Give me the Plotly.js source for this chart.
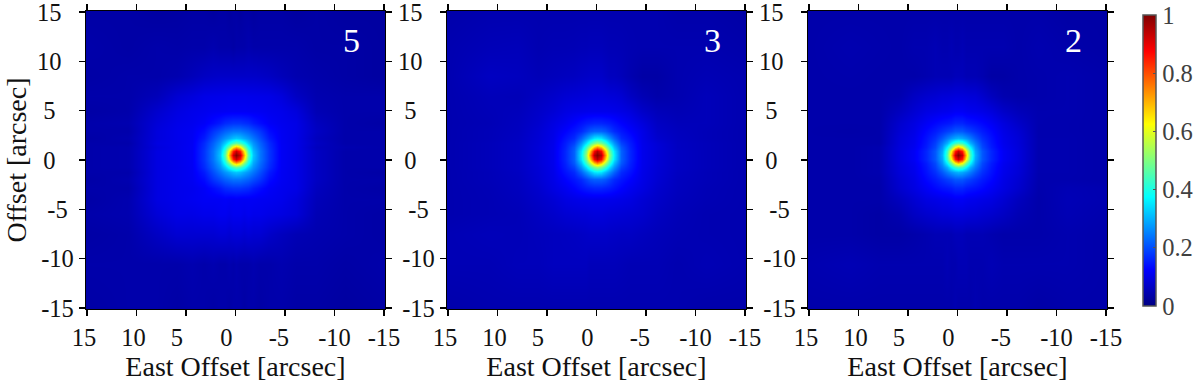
<!DOCTYPE html>
<html><head><meta charset="utf-8">
<script src="https://cdn.plot.ly/plotly-3.0.1.min.js"></script>
<style>html,body{margin:0;padding:0;background:#fff}#chart{width:1200px;height:389px}</style>
</head><body><div id="chart"></div>
<script>
const xCoords=[-15.2,-11.1,-8.1,-6.1,-4.6,-3.4,-2.5,-1.8,-1.3,-0.9,-0.5,-0.1,0.3,0.7,1.1,1.6,2.3,3.2,4.4,5.9,7.9,10.9,15.2];
const yCoords=[-15.2,-10.5,-7.5,-5.5,-4.0,-2.8,-1.9,-1.2,-0.7,-0.3,0.1,0.5,0.9,1.3,1.7,2.2,2.9,3.8,5.0,6.5,8.5,11.5,15.2];
const zPanel5=[
[.035,.03,.035,.035,.04,.04,.035,.04,.04,.035,.04,.04,.04,.035,.04,.04,.035,.04,.04,.035,.04,.04,.035],
[.04,.035,.04,.04,.045,.04,.04,.045,.04,.04,.04,.045,.04,.045,.04,.04,.045,.04,.045,.04,.04,.04,.04],
[.035,.04,.045,.05,.06,.07,.08,.08,.085,.08,.085,.085,.085,.08,.085,.085,.08,.08,.08,.08,.065,.04,.035],
[.035,.04,.05,.085,.095,.10,.105,.105,.11,.105,.11,.11,.11,.105,.11,.11,.105,.105,.10,.10,.085,.045,.04],
[.04,.04,.055,.09,.105,.11,.112,.115,.115,.115,.115,.118,.115,.115,.118,.115,.115,.115,.11,.104,.095,.045,.035],
[.035,.04,.06,.10,.108,.118,.135,.15,.165,.17,.175,.175,.175,.17,.165,.15,.135,.118,.108,.105,.095,.04,.04],
[.04,.04,.065,.10,.112,.135,.175,.20,.22,.23,.24,.24,.24,.23,.22,.20,.175,.135,.112,.105,.095,.045,.035],
[.035,.04,.065,.10,.113,.15,.20,.24,.27,.29,.31,.32,.31,.29,.27,.24,.20,.15,.113,.105,.095,.04,.04],
[.04,.04,.065,.10,.114,.165,.22,.27,.33,.39,.44,.47,.44,.39,.33,.27,.22,.165,.114,.104,.095,.045,.04],
[.04,.04,.065,.10,.115,.17,.23,.29,.39,.50,.64,.70,.64,.50,.39,.29,.23,.17,.115,.105,.095,.045,.04],
[.04,.04,.065,.10,.115,.175,.24,.31,.44,.64,.85,.93,.85,.64,.44,.31,.24,.175,.115,.105,.095,.045,.04],
[.04,.04,.065,.10,.115,.175,.24,.32,.47,.70,.93,1,.93,.70,.47,.32,.24,.175,.115,.105,.095,.045,.04],
[.04,.04,.065,.10,.115,.175,.24,.31,.44,.64,.85,.93,.85,.64,.44,.31,.24,.175,.115,.105,.095,.045,.04],
[.04,.045,.06,.10,.115,.17,.23,.29,.39,.50,.64,.70,.64,.50,.39,.29,.23,.17,.115,.105,.09,.045,.04],
[.04,.04,.065,.10,.114,.165,.22,.27,.33,.39,.44,.47,.44,.39,.33,.27,.22,.165,.114,.104,.095,.04,.04],
[.04,.04,.06,.10,.113,.15,.20,.24,.27,.29,.31,.32,.31,.29,.27,.24,.20,.15,.113,.105,.09,.045,.035],
[.04,.04,.065,.10,.112,.135,.175,.20,.22,.23,.24,.24,.24,.23,.22,.20,.175,.135,.112,.105,.09,.04,.04],
[.035,.04,.06,.10,.108,.118,.135,.15,.165,.17,.175,.175,.175,.17,.165,.15,.135,.118,.108,.102,.085,.045,.04],
[.04,.04,.05,.09,.104,.108,.112,.113,.114,.115,.115,.115,.115,.115,.114,.113,.112,.108,.104,.095,.075,.04,.035],
[.04,.04,.045,.065,.09,.10,.102,.103,.104,.105,.105,.105,.105,.105,.104,.103,.102,.10,.09,.08,.055,.04,.04],
[.03,.035,.04,.045,.055,.064,.068,.07,.07,.07,.07,.07,.07,.07,.07,.07,.068,.064,.055,.045,.04,.04,.035],
[.03,.035,.035,.04,.04,.04,.04,.04,.045,.04,.04,.04,.035,.04,.04,.04,.045,.04,.04,.038,.04,.035,.04],
[.03,.03,.035,.03,.035,.035,.035,.03,.035,.035,.03,.035,.035,.03,.035,.035,.03,.035,.035,.032,.03,.035,.035]];
const zPanel3=[
[.04,.04,.045,.045,.045,.045,.045,.045,.045,.045,.045,.045,.045,.045,.045,.045,.045,.045,.045,.045,.045,.045,.04],
[.045,.05,.045,.05,.05,.05,.053,.055,.055,.055,.055,.055,.055,.055,.06,.06,.06,.06,.06,.055,.055,.05,.05],
[.045,.047,.05,.055,.06,.065,.065,.067,.068,.07,.07,.07,.07,.07,.068,.066,.064,.062,.06,.057,.053,.055,.05],
[.045,.047,.053,.063,.075,.08,.083,.085,.086,.088,.09,.09,.09,.088,.086,.085,.083,.08,.072,.063,.053,.05,.045],
[.045,.05,.057,.07,.082,.095,.10,.103,.104,.105,.105,.105,.105,.105,.104,.103,.10,.095,.082,.07,.057,.05,.045],
[.045,.051,.06,.075,.095,.11,.125,.14,.15,.155,.16,.16,.16,.155,.15,.14,.125,.11,.095,.075,.06,.051,.045],
[.045,.053,.061,.08,.10,.125,.145,.165,.19,.21,.22,.22,.22,.21,.19,.165,.145,.125,.10,.08,.061,.053,.045],
[.045,.053,.063,.082,.102,.14,.165,.22,.27,.31,.35,.36,.35,.31,.27,.22,.165,.14,.102,.082,.063,.053,.045],
[.045,.055,.065,.083,.104,.15,.19,.27,.35,.43,.49,.52,.49,.43,.35,.27,.19,.15,.104,.083,.065,.055,.045],
[.045,.055,.065,.085,.105,.155,.21,.31,.43,.55,.68,.74,.68,.55,.43,.31,.21,.155,.105,.085,.065,.055,.045],
[.045,.055,.065,.085,.105,.16,.22,.35,.49,.68,.88,.95,.88,.68,.49,.35,.22,.16,.105,.085,.065,.055,.045],
[.045,.055,.065,.085,.105,.16,.22,.36,.52,.74,.95,1,.95,.74,.52,.36,.22,.16,.105,.085,.065,.055,.045],
[.045,.055,.065,.085,.105,.16,.22,.35,.49,.68,.88,.95,.88,.68,.49,.35,.22,.16,.105,.085,.065,.055,.045],
[.045,.055,.063,.085,.105,.155,.21,.31,.43,.55,.68,.74,.68,.55,.43,.31,.21,.155,.105,.085,.065,.055,.045],
[.045,.055,.063,.083,.104,.15,.19,.27,.35,.43,.49,.52,.49,.43,.35,.27,.19,.15,.104,.083,.065,.055,.045],
[.045,.053,.061,.075,.102,.14,.165,.22,.27,.31,.35,.36,.35,.31,.27,.22,.165,.14,.102,.082,.063,.053,.045],
[.045,.053,.059,.07,.10,.125,.145,.165,.19,.21,.22,.22,.22,.21,.19,.165,.145,.125,.10,.08,.061,.053,.045],
[.045,.055,.055,.065,.09,.11,.125,.14,.15,.155,.16,.16,.16,.155,.15,.14,.125,.11,.095,.075,.06,.051,.045],
[.045,.055,.05,.055,.07,.09,.098,.102,.104,.105,.105,.105,.105,.105,.104,.102,.10,.095,.082,.07,.057,.053,.045],
[.045,.055,.045,.04,.05,.065,.08,.085,.086,.088,.09,.09,.09,.088,.086,.085,.083,.08,.072,.063,.053,.055,.045],
[.045,.05,.045,.035,.035,.045,.055,.06,.06,.065,.07,.07,.07,.07,.068,.066,.062,.06,.057,.053,.06,.063,.045],
[.04,.045,.045,.045,.045,.047,.05,.051,.051,.053,.055,.055,.055,.055,.053,.053,.051,.05,.05,.047,.055,.053,.045],
[.035,.04,.04,.045,.045,.045,.045,.045,.045,.045,.045,.045,.045,.045,.045,.045,.045,.045,.045,.045,.045,.045,.04]];
const zPanel2=[
[.04,.04,.035,.04,.04,.04,.04,.045,.04,.04,.04,.04,.045,.04,.04,.04,.04,.04,.04,.04,.04,.04,.04],
[.04,.045,.045,.045,.045,.05,.045,.045,.045,.05,.05,.05,.045,.045,.05,.045,.045,.045,.045,.045,.045,.05,.045],
[.04,.045,.04,.04,.04,.045,.05,.05,.05,.05,.055,.055,.055,.05,.05,.05,.05,.045,.04,.035,.035,.04,.04],
[.042,.05,.04,.05,.065,.075,.08,.085,.086,.088,.09,.09,.09,.088,.086,.085,.08,.075,.065,.045,.035,.04,.04],
[.045,.052,.04,.06,.08,.095,.10,.105,.107,.11,.115,.115,.115,.11,.107,.105,.10,.095,.08,.06,.04,.04,.04],
[.045,.05,.042,.075,.095,.115,.13,.14,.145,.15,.16,.16,.16,.15,.145,.14,.13,.115,.095,.075,.04,.04,.04],
[.04,.044,.044,.08,.10,.13,.15,.17,.185,.195,.21,.21,.21,.195,.185,.17,.15,.13,.10,.08,.042,.04,.04],
[.04,.045,.045,.085,.105,.14,.17,.21,.245,.27,.29,.30,.29,.27,.245,.21,.17,.14,.105,.085,.045,.04,.04],
[.04,.045,.045,.086,.107,.145,.185,.245,.30,.37,.43,.45,.43,.37,.30,.245,.185,.145,.107,.086,.045,.04,.04],
[.04,.045,.045,.088,.11,.15,.195,.27,.37,.48,.62,.68,.62,.48,.37,.27,.195,.15,.11,.088,.045,.04,.04],
[.04,.045,.045,.09,.115,.16,.21,.29,.43,.62,.85,.93,.85,.62,.43,.29,.21,.16,.115,.09,.045,.04,.04],
[.04,.045,.045,.09,.115,.16,.21,.30,.45,.68,.93,1,.93,.68,.45,.30,.21,.16,.115,.09,.045,.04,.04],
[.04,.045,.045,.09,.115,.16,.21,.29,.43,.62,.85,.93,.85,.62,.43,.29,.21,.16,.115,.09,.045,.04,.04],
[.04,.045,.045,.088,.11,.15,.195,.27,.37,.48,.62,.68,.62,.48,.37,.27,.195,.15,.11,.088,.045,.04,.04],
[.04,.045,.045,.086,.107,.145,.185,.245,.30,.37,.43,.45,.43,.37,.30,.245,.185,.145,.107,.086,.04,.04,.04],
[.04,.045,.045,.085,.105,.14,.17,.21,.245,.27,.29,.30,.29,.27,.245,.21,.17,.14,.105,.085,.04,.04,.04],
[.04,.044,.044,.08,.10,.13,.15,.17,.185,.195,.21,.21,.21,.195,.185,.17,.15,.13,.10,.08,.04,.038,.04],
[.04,.044,.045,.07,.092,.115,.13,.14,.145,.15,.16,.16,.16,.15,.145,.14,.13,.115,.095,.075,.04,.04,.04],
[.04,.045,.045,.055,.07,.09,.10,.105,.107,.11,.115,.115,.115,.11,.107,.105,.10,.095,.08,.06,.04,.04,.04],
[.04,.045,.042,.04,.045,.06,.075,.085,.086,.088,.09,.09,.09,.088,.086,.085,.08,.075,.065,.045,.04,.04,.04],
[.04,.045,.042,.04,.035,.035,.045,.05,.05,.05,.055,.055,.055,.05,.05,.05,.05,.045,.04,.04,.04,.042,.04],
[.035,.04,.045,.04,.045,.045,.045,.045,.045,.045,.05,.045,.045,.05,.045,.045,.05,.045,.045,.04,.042,.045,.04],
[.035,.035,.04,.04,.04,.04,.04,.04,.04,.04,.04,.04,.04,.04,.04,.04,.04,.04,.04,.04,.04,.04,.04]];
const panelLabels=['5','3','2'];
const tickValues=[15,10,5,0,-5,-10,-15];
const nb='\u00a0';
const xTickText=['15'+nb,'10'+nb,'5'+nb+nb+nb,'0'+nb+nb+nb,'-5'+nb+nb,'-10','-15'];
const yTickText=['15'+nb+nb,'10'+nb+nb,'5'+nb+nb+nb,'0'+nb+nb+nb,'-5'+nb,'-10','-15'];
const colorTicks=[0,.2,.4,.6,.8,1];
const colorTickText=['0','0.2','0.4','0.6','0.8','1'];
const jet=[[0,'rgb(0,0,131)'],[.125,'rgb(0,0,255)'],[.375,'rgb(0,255,255)'],[.625,'rgb(255,255,0)'],[.875,'rgb(255,0,0)'],[1,'rgb(128,0,0)']];
const W=1200,H=389,serif='"Liberation Serif",serif';
const panelsPx=[[86,385],[447,746],[808,1107]];
const plotTop=11,plotBottom=309;
const tickFont={family:serif,size:24.5,color:'#111'};
const layout={width:W,height:H,margin:{l:0,r:0,t:0,b:0},paper_bgcolor:'#fff',showlegend:false,
 coloraxis:{cmin:0,cmax:1,colorscale:jet,colorbar:{
  lenmode:'pixels',len:291,thicknessmode:'pixels',thickness:13,x:1143/W,xanchor:'left',xref:'paper',
  y:1-160.5/H,yanchor:'middle',ypad:0,xpad:0,outlinecolor:'#555',outlinewidth:1.5,borderwidth:0,
  tickmode:'array',tickvals:colorTicks,ticktext:colorTickText,ticks:'inside',ticklen:3,tickcolor:'#555',
  ticklabeloverflow:'allow',tickfont:{family:serif,size:24.5,color:'#404040'}}},
 annotations:[]};
const data=[];
[zPanel5,zPanel3,zPanel2].forEach((z,i)=>{
 const s=i?String(i+1):'';
 data.push({type:'heatmap',x:xCoords,y:yCoords,z:z,coloraxis:'coloraxis',zsmooth:'best',xaxis:'x'+s,yaxis:'y'+s,hoverinfo:'skip'});
 layout['xaxis'+s]={domain:[panelsPx[i][0]/W,panelsPx[i][1]/W],range:[15.1,-15.1],anchor:'y'+s,
  tickmode:'array',tickvals:tickValues,ticktext:xTickText,ticks:'outside',ticklen:6,tickwidth:1.3,tickcolor:'#000',
  showline:true,linecolor:'#000',linewidth:1.3,mirror:'ticks',showgrid:false,zeroline:false,tickangle:0,tickfont:tickFont,
  ticklabeloverflow:'allow',title:{text:'East Offset [arcsec]',standoff:2,font:{family:serif,size:28,color:'#111'}}};
 layout['yaxis'+s]={domain:[1-plotBottom/H,1-plotTop/H],range:[-15.1,15.1],anchor:'x'+s,
  tickmode:'array',tickvals:tickValues,ticktext:yTickText,ticks:'outside',ticklen:6,tickwidth:1.3,tickcolor:'#000',
  showline:true,linecolor:'#000',linewidth:1.3,mirror:'ticks',showgrid:false,zeroline:false,tickfont:tickFont,
  ticklabeloverflow:'allow',title:i==0?{text:'Offset [arcsec]',standoff:2,font:{family:serif,size:28,color:'#111'}}:{text:''}};
 layout.annotations.push({xref:'x'+(s),yref:'y'+(s),x:-11.7,y:12.1,text:panelLabels[i],showarrow:false,
  font:{family:serif,size:34,color:'#fff'}});
});
Plotly.newPlot('chart',data,layout,{staticPlot:true,displayModeBar:false});
</script></body></html>
